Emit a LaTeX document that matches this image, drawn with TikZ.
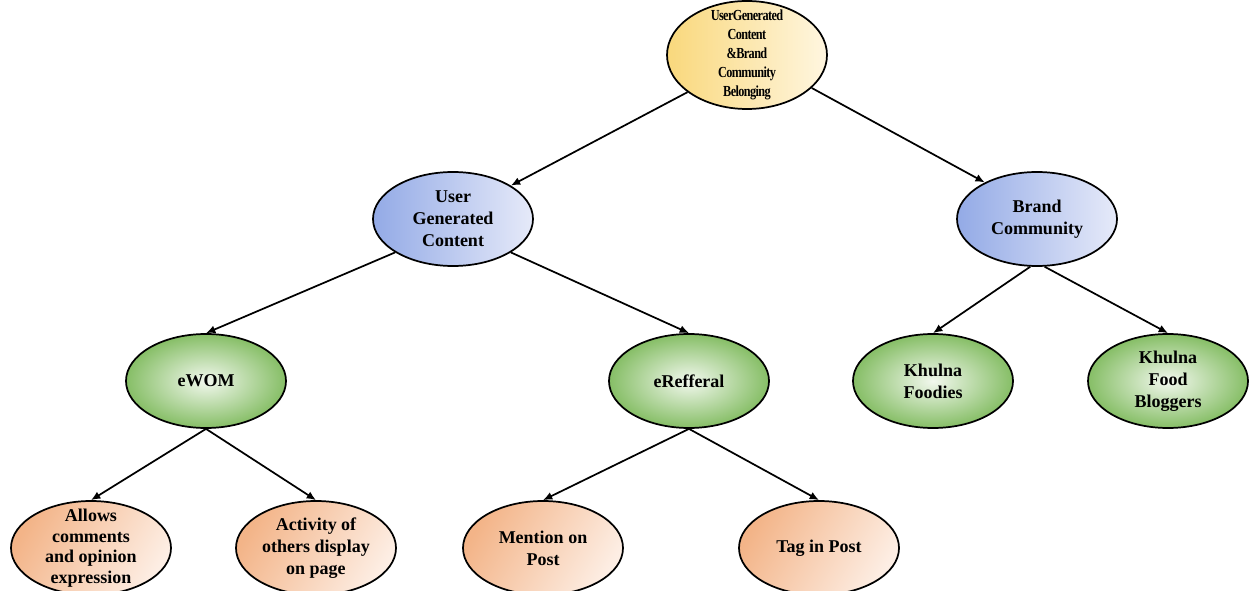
\documentclass[tikz,border=0pt]{standalone}
\usepackage{fontspec}
\setmainfont{Liberation Serif}
\newfontfamily\tightfont[FakeStretch=0.8,LetterSpace=-4]{Liberation Serif}
\usetikzlibrary{shapes.geometric,arrows.meta}
\definecolor{ydark}{HTML}{F9D87C}
\definecolor{ylight}{HTML}{FFF6E0}
\definecolor{bdark}{HTML}{93AAE6}
\definecolor{blight}{HTML}{E6EAF9}
\definecolor{gdark}{HTML}{86BE66}
\definecolor{glight}{HTML}{F2F8EE}
\definecolor{odark}{HTML}{F3B488}
\definecolor{olight}{HTML}{FDEEE4}
\begin{document}
\begin{tikzpicture}[x=0.75pt,y=-0.75pt,
  base/.style={ellipse, draw=black, line width=1.3pt, minimum width=120pt, minimum height=70.5pt, inner sep=0pt},
  lab/.style={label={[font=\fontsize{13.5}{16.5}\selectfont\bfseries, align=center]center:#1}},
  topnode/.style={base, minimum height=81pt, left color=ydark, right color=ylight},
  bluenode/.style={base, left color=bdark, right color=blight},
  greennode/.style={base, inner color=glight, outer color=gdark},
  orangenode/.style={base, left color=odark, right color=olight, shading angle=60},
  conn/.style={-{Latex[length=7pt,width=6pt]}, line width=1.3pt}]
\useasboundingbox (0,0) rectangle (1249,591);

\node[topnode, label={[font=\tightfont\bfseries\fontsize{11.5}{14.25}\selectfont, align=center]center:UserGenerated\\Content\\\&Brand\\Community\\Belonging}] (top) at (747,55) {};

\node[bluenode, lab={User\\Generated\\Content}] (ugc) at (453,219) {};
\node[bluenode, lab={Brand\\Community}] (brand) at (1037,219) {};

\node[greennode, lab={eWOM}] (ewom) at (206,381) {};
\node[greennode, lab={eRefferal}] (eref) at (689,381) {};
\node[greennode, lab={Khulna\\Foodies}] (foodies) at (933,381) {};
\node[greennode, lab={Khulna\\Food\\Bloggers}] (bloggers) at (1168,381) {};

\node[orangenode, label={[font=\fontsize{13.5}{15.4}\selectfont\bfseries, align=center]center:Allows\\comments\\and opinion\\expression}] (allows) at (91,548) {};
\node[orangenode, lab={Activity of\\others display\\on page}] (activity) at (316,548) {};
\node[orangenode, lab={Mention on\\Post}] (mention) at (543,548) {};
\node[orangenode, lab={Tag in Post}] (tag) at (819,548) {};

\draw[conn] (top.212) -- (ugc.30);
\draw[conn] (top.333) -- (brand.145);
\draw[conn] (ugc.210) -- (ewom.north);
\draw[conn] (ugc.330) -- (eref.north);
\draw[conn] (brand.262) -- (foodies.north);
\draw[conn] (brand.279) -- (bloggers.north);
\draw[conn] (ewom.south) -- (allows.north);
\draw[conn] (ewom.south) -- (activity.north);
\draw[conn] (eref.south) -- (mention.north);
\draw[conn] (eref.south) -- (tag.north);
\end{tikzpicture}
\end{document}
